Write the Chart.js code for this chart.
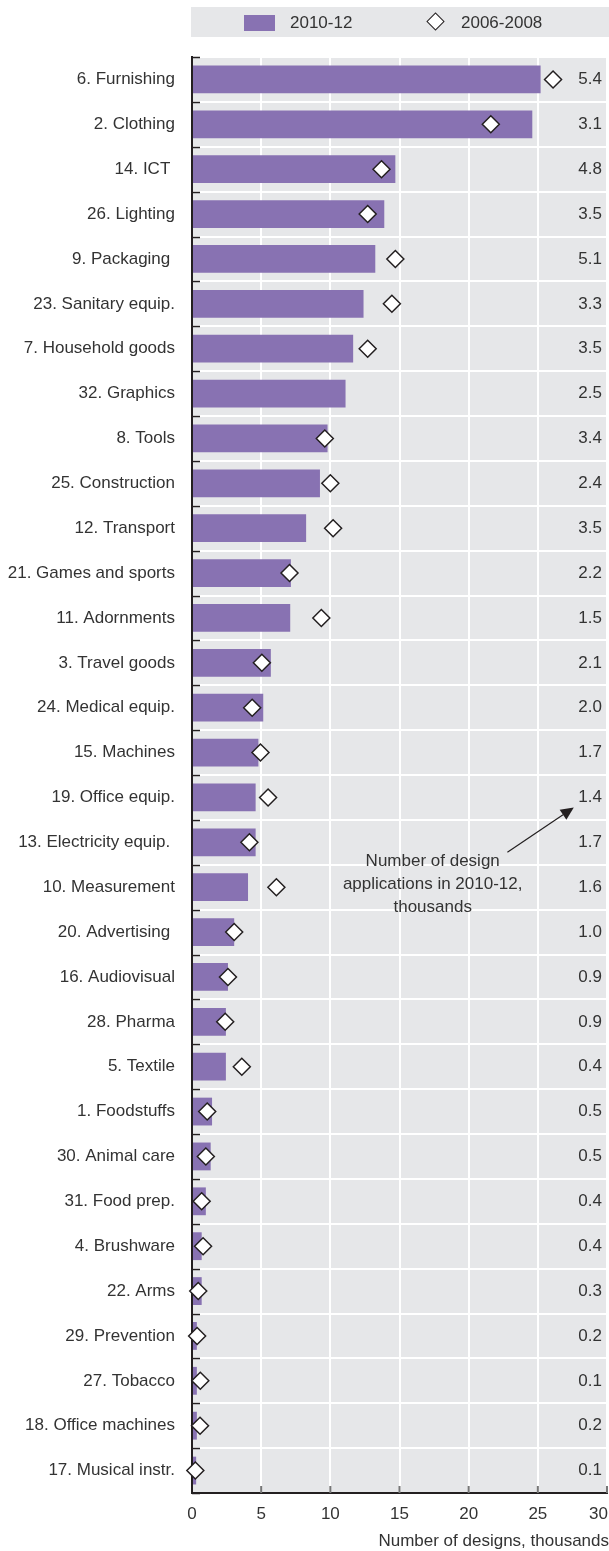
<!DOCTYPE html>
<html><head><meta charset="utf-8">
<script src="https://cdn.jsdelivr.net/npm/chart.js@4/dist/chart.umd.min.js"></script>
<style>
html,body{margin:0;padding:0;background:#fff;}
#wrap{position:relative;width:609px;height:1551px;}
#legend{position:absolute;left:191px;top:7px;width:418px;height:30px;background:#e6e7e9;font-family:"Liberation Sans",Arial,sans-serif;font-size:17px;color:#333;}
#legend .sw{position:absolute;left:53px;top:8px;width:31px;height:16px;background:#8872b2;}
#legend .t1{position:absolute;left:99px;top:0;line-height:31px;}
#legend .dm{position:absolute;left:238px;top:8px;width:11px;height:11px;background:#fff;border:1.5px solid #231f20;transform:rotate(45deg);}
#legend .t2{position:absolute;left:270px;top:0;line-height:31px;}
canvas{position:absolute;left:0;top:0;}
</style></head>
<body><div id="wrap">
<canvas id="c" width="609" height="1551" style="width:609px;height:1551px"></canvas>
<div id="legend"><span class="sw"></span><span class="t1">2010-12</span><span class="dm"></span><span class="t2">2006-2008</span></div>
</div>
<script>
const categories = ["6. Furnishing","2. Clothing","14. ICT ","26. Lighting","9. Packaging ","23. Sanitary equip.","7. Household goods","32. Graphics","8. Tools","25. Construction","12. Transport","21. Games and sports","11. Adornments","3. Travel goods","24. Medical equip.","15. Machines","19. Office equip.","13. Electricity equip. ","10. Measurement","20. Advertising ","16. Audiovisual","28. Pharma","5. Textile","1. Foodstuffs","30. Animal care","31. Food prep.","4. Brushware","22. Arms","29. Prevention","27. Tobacco","18. Office machines","17. Musical instr."];
const designs2010_12 = [25.2,24.6,14.7,13.9,13.25,12.4,11.65,11.1,9.8,9.25,8.25,7.15,7.1,5.7,5.15,4.8,4.6,4.6,4.05,3.05,2.6,2.45,2.45,1.45,1.35,1.0,0.7,0.7,0.35,0.35,0.35,0.3];
const designs2006_2008 = [26.1,21.6,13.7,12.7,14.7,14.45,12.7,null,9.6,10.0,10.2,7.05,9.35,5.05,4.35,4.95,5.5,4.15,6.1,3.05,2.6,2.4,3.6,1.1,1.0,0.7,0.8,0.45,0.37,0.6,0.58,0.24];
const applications2010_12 = ["5.4","3.1","4.8","3.5","5.1","3.3","3.5","2.5","3.4","2.4","3.5","2.2","1.5","2.1","2.0","1.7","1.4","1.7","1.6","1.0","0.9","0.9","0.4","0.5","0.5","0.4","0.4","0.3","0.2","0.1","0.2","0.1"];
const xTicks = [0,5,10,15,20,25,30];
const seriesNames = ["2010-12","2006-2008"];
const annotationLines = ["Number of design","applications in 2010-12,","thousands"];
const xTitle = "Number of designs, thousands";

const FONT = '"Liberation Sans",Arial,sans-serif';
const FS = 17;
const TXT = '#333333';
const DARK = '#231f20';

const deco = {
  id: 'deco',
  beforeDraw(chart){
    const {ctx, chartArea:a} = chart;
    ctx.save();
    ctx.fillStyle = '#e6e7e9';
    ctx.fillRect(a.left, a.top, a.right-a.left, a.bottom-a.top);
    ctx.restore();
  },
  beforeDatasetsDraw(chart){
    const {ctx, chartArea:a, scales:{x,y}} = chart;
    ctx.save();
    const step = y.getPixelForValue(1) - y.getPixelForValue(0);
    ctx.strokeStyle = DARK; ctx.lineWidth = 1.5;
    for (let i=0;i<=categories.length;i++){
      const py = Math.round(y.getPixelForValue(i) - step/2) + 0.5;
      ctx.beginPath(); ctx.moveTo(a.left, py); ctx.lineTo(a.left+8, py); ctx.stroke();
    }
    ctx.strokeStyle = '#777'; ctx.lineWidth = 2;
    xTicks.forEach(v=>{
      if (v===0) return;
      const px = x.getPixelForValue(v);
      ctx.beginPath(); ctx.moveTo(px, a.bottom); ctx.lineTo(px, a.bottom-7); ctx.stroke();
    });
    ctx.restore();
  },
  afterDraw(chart){
    const {ctx, chartArea:a, scales:{x,y}} = chart;
    ctx.save();
    ctx.font = FS + 'px ' + FONT;
    ctx.fillStyle = TXT;
    ctx.textBaseline = 'middle';
    xTicks.forEach((v,i)=>{
      const last = i === xTicks.length-1;
      ctx.textAlign = last ? 'right' : 'center';
      const px = x.getPixelForValue(v) + (last ? 1 : 0);
      ctx.fillText(String(v), px, a.bottom + 21);
    });
    ctx.textAlign = 'right';
    ctx.fillText(xTitle, chart.width, a.bottom + 48);
    applications2010_12.forEach((t,i)=>{
      ctx.fillText(t, a.right - 5, y.getPixelForValue(i));
    });
    ctx.textAlign = 'center';
    const xc = x.getPixelForValue(17.4);
    const yb = y.getPixelForValue(18);
    ctx.fillText(annotationLines[0], xc, yb - 26);
    ctx.fillText(annotationLines[1], xc, yb - 3);
    ctx.fillText(annotationLines[2], xc, yb + 20);
    const x0 = x.getPixelForValue(22.8), y0 = y.getPixelForValue(17) + 10;
    const x1 = x.getPixelForValue(27.6), y1 = y.getPixelForValue(16) + 10;
    const ang = Math.atan2(y1-y0, x1-x0);
    const L = 13, W = 6;
    const bx = x1 - L*Math.cos(ang), by = y1 - L*Math.sin(ang);
    ctx.strokeStyle = DARK; ctx.fillStyle = DARK; ctx.lineWidth = 1.2;
    ctx.beginPath(); ctx.moveTo(x0,y0); ctx.lineTo(bx,by); ctx.stroke();
    ctx.beginPath();
    ctx.moveTo(x1,y1);
    ctx.lineTo(bx + W*Math.sin(ang), by - W*Math.cos(ang));
    ctx.lineTo(bx - W*Math.sin(ang), by + W*Math.cos(ang));
    ctx.closePath(); ctx.fill();
    ctx.restore();
  }
};

new Chart(document.getElementById('c'), {
  type: 'bar',
  data: {
    labels: categories,
    datasets: [
      {label: seriesNames[0], data: designs2010_12, backgroundColor: '#8872b2', barPercentage: 0.62, categoryPercentage: 1, order: 2},
      {type: 'line', label: seriesNames[1], data: designs2006_2008, showLine: false, pointStyle: 'rectRot', pointRadius: 8.5, pointBackgroundColor: '#ffffff', pointBorderColor: DARK, pointBorderWidth: 1.5, order: 1, clip: false}
    ]
  },
  options: {
    indexAxis: 'y',
    responsive: false,
    animation: false,
    devicePixelRatio: 1,
    layout: {autoPadding: false, padding: {top: 57, right: 2, left: 0, bottom: 0}},
    plugins: {legend: {display: false}, tooltip: {enabled: false}},
    scales: {
      x: {
        type: 'linear', min: 0, max: 30,
        ticks: {stepSize: 5, display: false, font: {size: 1}, callback: () => ''},
        grid: {color: '#ffffff', lineWidth: 2, drawTicks: false},
        border: {color: DARK, width: 2},
        afterFit(s){ s.height = 58; }
      },
      y: {
        type: 'category', offset: true,
        grid: {color: '#ffffff', lineWidth: 2, drawTicks: false, offset: true},
        border: {color: DARK, width: 2},
        ticks: {font: {family: FONT, size: FS}, color: TXT, padding: 17, autoSkip: false},
        afterFit(s){ s.width = 192; }
      }
    }
  },
  plugins: [deco]
});
</script>
</body></html>
